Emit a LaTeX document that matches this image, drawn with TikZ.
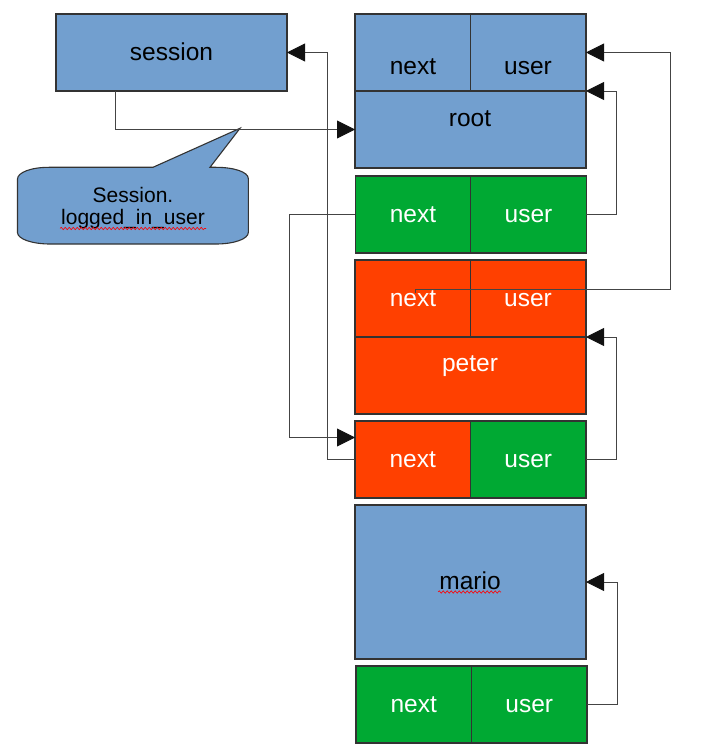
\documentclass[tikz,border=0pt]{standalone}
\usepackage{fontspec}
\setmainfont{Liberation Sans}
\usetikzlibrary{arrows.meta,decorations.pathmorphing}
\definecolor{cblue}{HTML}{729FCF}
\definecolor{cgreen}{HTML}{00A933}
\definecolor{cred}{HTML}{FF4000}
\definecolor{cline}{HTML}{333333}
\definecolor{cconn}{HTML}{444444}
\definecolor{chead}{HTML}{111111}
\tikzset{
  cellbox/.style={draw=cline, line width=1.2pt, inner sep=0pt, outer sep=0pt,
    minimum width=115.5pt, minimum height=77pt,
    font=\fontsize{24.5}{29}\selectfont, text height=15.7pt, text depth=0pt},
  widebox/.style={cellbox, minimum width=231pt},
  lbl/.style={inner sep=0pt, outer sep=0pt, font=\fontsize{24.5}{29}\selectfont,
    text height=12.7pt, text depth=0pt},
  conn/.style={draw=cconn, line width=0.9pt},
  arr/.style={conn, -{Triangle[length=18pt,width=18pt,color=chead,fill=chead]}},
  spell/.style={draw=red, line width=0.6pt, decorate,
    decoration={snake, amplitude=1.2pt, segment length=4pt}}
}
\begin{document}
\begin{tikzpicture}[x=1pt,y=-1pt]
\useasboundingbox (0,0) rectangle (718,751);

% session box
\node[widebox, fill=cblue] (session) at (171.5,52.5) {session};

% root block
\node[cellbox, fill=cblue] (rootnext) at (412.75,52.5) {};
\node[cellbox, fill=cblue] (rootuser) at (528.25,52.5) {};
\node[widebox, fill=cblue] (root) at (470.5,129.5) {};
\node[lbl] (rootnextl) at (413,68) {next};
\node[lbl] (rootuserl) at (528,68) {user};
\node[lbl] (rootl) at (470,120) {root};

% green row 1
\node[cellbox, fill=cgreen, text=white] (gonenext) at (413,214.5) {next};
\node[cellbox, fill=cgreen, text=white] (goneuser) at (528.5,214.5) {user};

% peter block
\node[cellbox, fill=cred] (peternext) at (412.75,298.5) {};
\node[cellbox, fill=cred] (peteruser) at (528.25,298.5) {};
\node[widebox, fill=cred] (peter) at (470.5,375.5) {};
\node[lbl, text=white] (peternextl) at (413,300) {next};
\node[lbl, text=white] (peteruserl) at (528,300) {user};
\node[lbl, text=white] (peterl) at (470,365) {peter};

% row 4
\node[cellbox, fill=cred, text=white] (rfnext) at (412.75,459.5) {next};
\node[cellbox, fill=cgreen, text=white] (rfuser) at (528.25,459.5) {user};

% mario block
\node[widebox, fill=cblue, minimum height=154pt] (mario) at (470.5,582) {};
\node[lbl] (mariol) at (470,583) {mario};

% green row 7
\node[cellbox, fill=cgreen, text=white] (gsnext) at (413.75,704.5) {next};
\node[cellbox, fill=cgreen, text=white] (gsuser) at (529.25,704.5) {user};

% callout
\path[draw=cline, line width=1.1pt, fill=cblue]
  (153,167.3) -- (240,128.3) -- (210,167.3) -- (216,167.3)
  .. controls (234,167.3) and (248.3,172) .. (248.3,178.5)
  -- (248.3,232.5)
  .. controls (248.3,239) and (234,244) .. (216,244)
  -- (50,244)
  .. controls (32,244) and (17.5,239) .. (17.5,232.5)
  -- (17.5,179)
  .. controls (17.5,172.5) and (31,167.3) .. (49,167.3)
  -- cycle;
\node[inner sep=0pt, align=center, font=\fontsize{21}{22.5}\selectfont] (calltext)
  at (133,208) {Session.\\logged\_in\_user};

% spell-check underlines
\draw[spell] (60,228.5) -- (206,228.5);
\draw[spell] (438,592) -- (501,592);

% connectors
\draw[arr] ([xshift=-56pt]session.south) |- (root.west);
\draw[arr] (gonenext.west) -- ++(-66,0) |- ([yshift=22pt]rfnext.west);
\draw[arr] (rfnext.west) -- ++(-28,0) |- (session.east);
\draw[arr] (goneuser.east) -- ++(30,0) |- (root.north east);
\coordinate (pstart) at ([shift={(2.5pt,5.5pt)}]peternext.center);
\draw[arr] (pstart) -- ++(0,-4) -- ++(255,0) |- (rootuser.east);
\draw[arr] (rfuser.east) -- ++(30,0) |- (peteruser.south east);
\draw[arr] (gsuser.east) -- ++(30,0) |- (mario.east);
\end{tikzpicture}
\end{document}
